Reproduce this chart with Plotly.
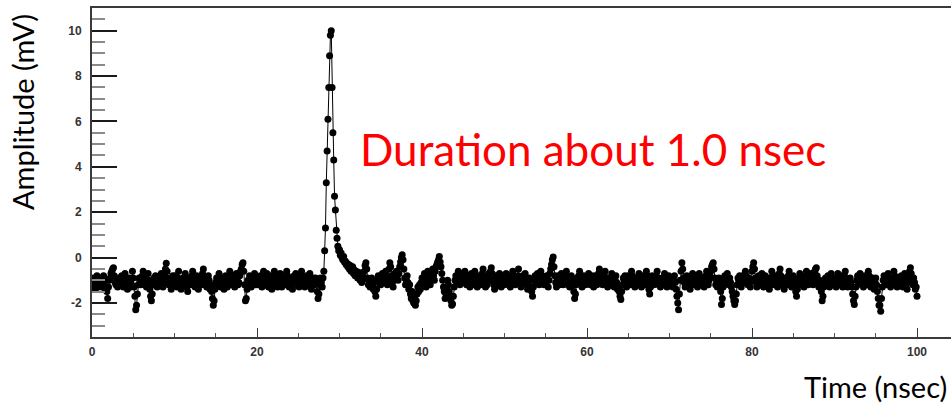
import numpy as np
import plotly.graph_objects as go

# Sampled waveform, one sample every 0.1 ns from 0 to 100 ns (amplitude in mV)
amp_00_10 = [
    -1.3, -1.1, -0.9, -1.2, -1.4, -1.0, -0.8, -1.1, -1.3, -1.2,
    -0.9, -1.0, -1.3, -1.1, -0.8, -1.2, -1.4, -1.0, -1.5, -1.8,
    -1.3, -1.0, -0.9, -0.7, -0.6, -0.5, -0.45, -0.8, -1.1, -1.2,
    -1.0, -1.3, -1.1, -0.9, -1.2, -1.0, -0.8, -1.1, -1.3, -1.0,
    -0.7, -0.9, -1.2, -1.4, -1.1, -0.9, -1.0, -1.3, -1.2, -0.6,
    -0.9, -1.3, -1.7, -2.3, -2.1, -1.6, -1.2, -0.9, -1.0, -1.2,
    -1.1, -0.8, -0.6, -0.9, -1.2, -1.0, -1.3, -1.1, -0.7, -1.0,
    -1.4, -1.7, -1.9, -1.6, -1.2, -0.9, -1.1, -0.8, -1.0, -1.3,
    -1.1, -0.9, -1.2, -1.0, -0.7, -0.9, -1.3, -1.1, -0.8, -0.5,
    -0.25, -0.6, -1.0, -1.2, -0.9, -1.1, -1.4, -1.0, -0.8, -1.2,
]
amp_10_20 = [
    -1.0, -0.8, -1.1, -1.3, -0.9, -0.6, -1.0, -1.2, -1.4, -1.1,
    -0.9, -1.2, -1.0, -0.7, -1.1, -1.3, -1.5, -1.2, -0.9, -1.0,
    -1.2, -0.8, -0.6, -0.9, -1.1, -1.3, -1.0, -0.8, -1.2, -1.4,
    -1.1, -0.9, -1.0, -1.2, -0.7, -0.5, -0.9, -1.2, -1.0, -1.3,
    -1.1, -0.8, -1.0, -1.4, -1.2, -1.5, -1.8, -2.1, -1.9, -1.4,
    -1.1, -0.9, -1.2, -1.0, -0.7, -1.1, -1.3, -1.0, -0.9, -1.2,
    -1.4, -1.1, -0.8, -1.0, -1.3, -1.2, -0.9, -0.6, -1.0, -1.2,
    -1.0, -0.8, -1.1, -1.3, -1.0, -0.7, -0.9, -1.2, -1.1, -0.8,
    -0.6, -0.5, -0.3, -0.23, -0.6, -1.2, -1.9, -1.8, -1.4, -1.0,
    -1.1, -0.8, -1.0, -1.3, -1.2, -0.9, -1.1, -0.7, -1.0, -1.2,
]
amp_20_30 = [
    -1.1, -0.9, -1.2, -1.0, -0.8, -1.1, -1.3, -0.9, -0.6, -1.0,
    -1.2, -1.0, -0.7, -0.9, -1.3, -1.1, -0.8, -1.0, -1.4, -1.2,
    -0.9, -0.6, -0.8, -1.1, -1.0, -1.3, -1.1, -0.9, -0.7, -1.0,
    -1.3, -1.1, -0.8, -1.0, -1.2, -0.9, -0.6, -0.8, -1.1, -1.3,
    -1.0, -0.9, -1.2, -1.4, -1.1, -0.8, -1.0, -0.7, -0.9, -1.2,
    -1.1, -1.3, -1.0, -0.8, -0.6, -0.9, -1.2, -1.0, -1.3, -1.1,
    -0.8, -1.0, -1.2, -0.9, -0.7, -1.1, -1.4, -1.2, -0.9, -1.0,
    -1.2, -0.9, -1.1, -1.5, -1.8, -1.6, -1.2, -0.9, -1.1, -1.3,
    -0.9, -0.6, 0.3, 1.3, 3.3, 4.7, 6.1, 7.5, 8.9, 9.8,
    10.0, 7.5, 5.5, 4.3, 2.7, 2.1, 1.2, 0.85, 0.5, 0.3,
]
amp_30_40 = [
    0.35, 0.1, 0.2, 0.0, -0.1, 0.05, -0.2, -0.15, -0.3, -0.25,
    -0.4, -0.3, -0.5, -0.35, -0.6, -0.45, -0.4, -0.7, -0.55, -0.8,
    -0.6, -0.75, -0.9, -0.65, -0.7, -1.0, -0.85, -1.1, -0.8, -0.95,
    -0.6, -0.35, -0.23, -0.5, -0.9, -1.2, -1.0, -1.3, -1.1, -0.9,
    -1.2, -1.4, -1.1, -1.5, -1.7, -1.4, -1.0, -0.8, -1.1, -0.9,
    -1.2, -1.0, -0.7, -0.9, -1.1, -0.8, -0.6, -0.9, -1.2, -1.0,
    -0.5, -0.23, -0.4, -0.8, -1.1, -1.3, -1.0, -0.7, -0.9, -0.6,
    -0.8, -1.0, -0.7, -0.4, -0.2, 0.0, 0.13, -0.1, -0.5, -0.9,
    -1.2, -1.0, -0.8, -1.1, -1.4, -1.2, -1.6, -1.8, -1.5, -1.9,
    -2.0, -1.8, -2.1, -1.9, -1.6, -1.3, -1.5, -1.2, -1.4, -1.1,
]
amp_40_50 = [
    -0.9, -1.2, -1.0, -0.7, -1.1, -1.3, -0.9, -0.6, -0.8, -1.0,
    -1.2, -0.9, -0.7, -0.5, -0.8, -1.0, -0.6, -0.4, -0.3, -0.2,
    -0.1, 0.05, -0.2, -0.4, -0.7, -1.0, -1.3, -1.5, -1.8, -1.6,
    -1.3, -1.0, -1.2, -1.5, -1.7, -1.9, -2.1, -2.05, -1.7, -1.3,
    -1.0, -0.8, -1.1, -0.9, -0.6, -0.8, -1.2, -1.0, -0.7, -0.9,
    -1.1, -0.8, -0.6, -0.9, -1.2, -1.0, -0.8, -1.1, -1.3, -1.0,
    -0.7, -0.9, -1.2, -1.0, -0.6, -0.8, -1.1, -1.3, -1.0, -0.8,
    -1.0, -1.2, -0.9, -0.7, -0.5, -0.8, -1.1, -1.3, -1.0, -1.2,
    -0.9, -0.7, -1.0, -0.6, -0.45, -0.7, -1.0, -1.2, -1.4, -1.1,
    -0.8, -1.0, -1.2, -0.9, -0.7, -1.0, -1.3, -1.1, -0.8, -1.0,
]
amp_50_60 = [
    -1.2, -0.9, -0.7, -1.0, -1.1, -0.8, -1.0, -1.3, -1.1, -0.9,
    -0.6, -0.8, -1.0, -1.2, -0.9, -1.1, -0.8, -0.5, -0.9, -1.1,
    -1.3, -1.0, -0.8, -1.1, -0.9, -0.7, -1.0, -1.2, -1.4, -1.1,
    -0.9, -1.0, -1.3, -1.5, -1.7, -1.3, -1.0, -0.8, -1.1, -0.9,
    -0.7, -1.0, -1.2, -0.9, -0.6, -0.8, -1.1, -1.0, -1.2, -0.9,
    -1.1, -0.8, -1.0, -1.3, -1.0, -0.7, -0.5, -0.3, -0.1, 0.03,
    -0.4, -0.8, -1.1, -1.3, -1.0, -0.8, -1.0, -1.2, -0.9, -0.7,
    -1.0, -1.2, -0.9, -1.1, -0.8, -0.6, -0.9, -1.2, -1.0, -1.3,
    -1.1, -0.8, -1.0, -1.2, -1.5, -1.8, -1.6, -1.2, -0.9, -1.0,
    -0.8, -0.6, -0.9, -1.1, -1.3, -1.0, -0.8, -1.0, -1.2, -0.9,
]
amp_60_70 = [
    -1.1, -0.9, -0.7, -1.0, -1.2, -1.0, -0.8, -1.1, -1.3, -1.0,
    -0.8, -1.0, -1.2, -0.9, -0.7, -0.5, -0.8, -1.1, -1.0, -1.2,
    -1.0, -0.8, -0.6, -0.9, -1.1, -1.3, -1.0, -0.9, -1.2, -1.0,
    -0.7, -0.9, -1.1, -1.3, -1.0, -0.8, -1.1, -1.4, -1.2, -1.5,
    -1.7, -1.85, -1.5, -1.2, -0.9, -1.0, -0.8, -1.1, -1.3, -1.0,
    -0.8, -1.0, -1.2, -0.9, -0.6, -0.8, -1.1, -1.0, -1.3, -1.1,
    -0.9, -1.2, -1.0, -0.7, -0.9, -1.1, -1.3, -1.0, -0.8, -1.0,
    -1.2, -0.9, -0.6, -0.8, -1.1, -1.4, -1.6, -1.3, -1.0, -0.8,
    -1.0, -1.2, -0.9, -1.1, -0.8, -0.6, -0.9, -1.2, -1.0, -1.3,
    -1.1, -0.9, -1.2, -1.0, -0.7, -0.9, -1.1, -1.3, -1.0, -0.8,
]
amp_70_80 = [
    -1.0, -1.2, -0.9, -1.1, -1.3, -1.0, -0.8, -1.1, -1.4, -1.7,
    -2.0, -2.3, -1.6, -1.0, -0.6, -0.23, -0.5, -0.9, -1.1, -1.3,
    -1.0, -0.8, -1.1, -0.9, -1.2, -1.4, -1.1, -0.9, -0.7, -1.0,
    -1.2, -1.0, -0.8, -1.1, -1.3, -1.0, -0.7, -0.9, -1.2, -1.1,
    -0.9, -1.1, -1.3, -1.0, -0.8, -0.6, -0.9, -1.2, -1.0, -0.8,
    -0.6, -0.4, -0.3, -0.23, -0.5, -0.9, -1.2, -1.0, -1.3, -1.1,
    -0.9, -1.2, -1.5, -2.07, -1.8, -1.3, -1.0, -0.8, -1.1, -0.9,
    -0.7, -1.0, -1.2, -0.9, -1.1, -1.3, -1.5, -1.7, -1.9, -2.07,
    -1.9, -1.6, -1.2, -0.9, -1.0, -0.8, -1.1, -1.3, -1.0, -0.8,
    -1.1, -0.9, -0.6, -0.8, -1.0, -1.2, -0.9, -1.1, -1.3, -1.0,
]
amp_80_90 = [
    -0.6, -0.4, -0.23, -0.5, -0.9, -1.1, -1.3, -1.0, -0.8, -1.1,
    -1.2, -0.9, -0.7, -1.0, -1.3, -1.1, -0.8, -1.0, -1.2, -0.9,
    -1.1, -1.4, -1.2, -0.9, -0.6, -0.8, -1.0, -1.2, -1.0, -0.8,
    -1.1, -1.3, -1.0, -0.7, -0.5, -0.8, -1.1, -0.9, -1.2, -1.4,
    -1.1, -0.9, -1.0, -1.2, -0.8, -0.6, -0.9, -1.1, -1.3, -1.0,
    -0.8, -1.0, -1.2, -1.5, -1.7, -1.4, -1.1, -0.9, -0.7, -1.0,
    -1.2, -0.9, -1.1, -1.3, -1.0, -0.8, -0.6, -0.9, -1.2, -1.0,
    -1.1, -0.9, -0.7, -1.0, -1.2, -0.9, -0.6, -0.5, -0.45, -0.8,
    -1.1, -1.3, -1.0, -1.2, -1.5, -1.9, -1.7, -1.3, -1.0, -0.9,
    -1.2, -1.0, -0.8, -1.1, -1.3, -0.9, -0.7, -1.0, -1.2, -1.1,
]
amp_90_100 = [
    -0.9, -1.1, -1.3, -1.0, -0.7, -0.9, -1.2, -1.0, -0.8, -1.1,
    -1.3, -1.0, -0.8, -0.6, -0.9, -1.1, -1.3, -1.0, -1.2, -0.9,
    -1.1, -1.3, -1.6, -1.9, -2.07, -1.7, -1.3, -1.0, -0.8, -1.1,
    -1.0, -0.7, -0.9, -1.2, -1.0, -1.3, -1.1, -0.8, -1.0, -1.2,
    -0.9, -0.6, -0.8, -1.1, -1.3, -1.0, -0.9, -1.2, -1.4, -1.1,
    -0.9, -1.2, -1.5, -1.8, -2.1, -2.1, -2.36, -1.8, -1.3, -1.0,
    -0.8, -1.1, -0.9, -1.2, -1.0, -0.7, -0.9, -1.1, -1.3, -1.0,
    -1.2, -0.9, -0.6, -0.8, -1.1, -1.0, -1.3, -1.1, -0.9, -1.2,
    -1.0, -0.8, -1.1, -1.3, -1.0, -0.7, -0.9, -1.2, -1.4, -1.1,
    -0.8, -0.6, -0.45, -0.7, -1.0, -1.2, -0.9, -1.1, -1.4, -1.3,
    -1.7,
]

amplitude = (amp_00_10 + amp_10_20 + amp_20_30 + amp_30_40 + amp_40_50
             + amp_50_60 + amp_60_70 + amp_70_80 + amp_80_90 + amp_90_100)
sample_step_ns = 0.1
time_ns = np.round(np.arange(len(amplitude)) * sample_step_ns, 2)

x_ticks = [0, 20, 40, 60, 80, 100]
y_ticks = [-2, 0, 2, 4, 6, 8, 10]

W, H = 951, 404
ML, MR, MT, MB = 92, 0, 8, 67
PW, PH = W - ML - MR, H - MT - MB


def px_x(px):
    return (px - ML) / PW


def px_y(py):
    return (H - MB - py) / PH


fig = go.Figure()
fig.add_trace(go.Scatter(
    x=time_ns, y=amplitude, mode="lines+markers",
    line=dict(color="black", width=1),
    marker=dict(color="black", size=7),
    showlegend=False, hoverinfo="skip",
))

axis_font = dict(family="Liberation Sans, Arial, sans-serif", size=12,
                 color="#333333", weight="bold")

fig.update_layout(
    width=W, height=H,
    margin=dict(l=ML, r=MR, t=MT, b=MB, pad=0),
    paper_bgcolor="white", plot_bgcolor="white",
    xaxis=dict(
        range=[0, PW / 8.25], tickvals=x_ticks, ticktext=[str(v) for v in x_ticks],
        showgrid=False, zeroline=False,
        showline=True, linecolor="#3a3a3a", linewidth=2, mirror=True,
        ticks="inside", ticklen=9, tickwidth=1, tickcolor="#3a3a3a",
        minor=dict(dtick=5, tick0=0, ticks="inside", ticklen=4, tickcolor="#555", tickwidth=1),
        tickfont=axis_font, ticklabelstandoff=3,
    ),
    yaxis=dict(
        range=[-3.5, 11], tickvals=y_ticks, ticktext=[str(v) for v in y_ticks],
        showgrid=False, zeroline=False,
        showline=True, linecolor="#3a3a3a", linewidth=2,
        ticks="inside", ticklen=25, tickwidth=2, tickcolor="#1a1a1a",
        minor=dict(dtick=0.5, tick0=0, ticks="inside", ticklen=13, tickcolor="#8a8a8a", tickwidth=2),
        tickfont=axis_font, ticklabelstandoff=6,
    ),
)

title_font = "Lato, Liberation Sans, sans-serif"
fig.add_annotation(
    text="Amplitude (mV)", xref="paper", yref="paper",
    x=px_x(22), y=px_y(112), xanchor="center", yanchor="middle",
    textangle=-90, showarrow=False,
    font=dict(family=title_font, size=29, color="black"),
)
fig.add_annotation(
    text="Time (nsec)", xref="paper", yref="paper",
    x=px_x(949), y=px_y(386), xanchor="right", yanchor="middle",
    showarrow=False,
    font=dict(family=title_font, size=29, color="black"),
)
fig.add_annotation(
    text="Duration about 1.0 nsec", xref="paper", yref="paper",
    x=px_x(358), y=px_y(149), xanchor="left", yanchor="middle",
    showarrow=False,
    font=dict(family=title_font, size=44, color="#ff0000"),
)

fig.write_html("out.html")
